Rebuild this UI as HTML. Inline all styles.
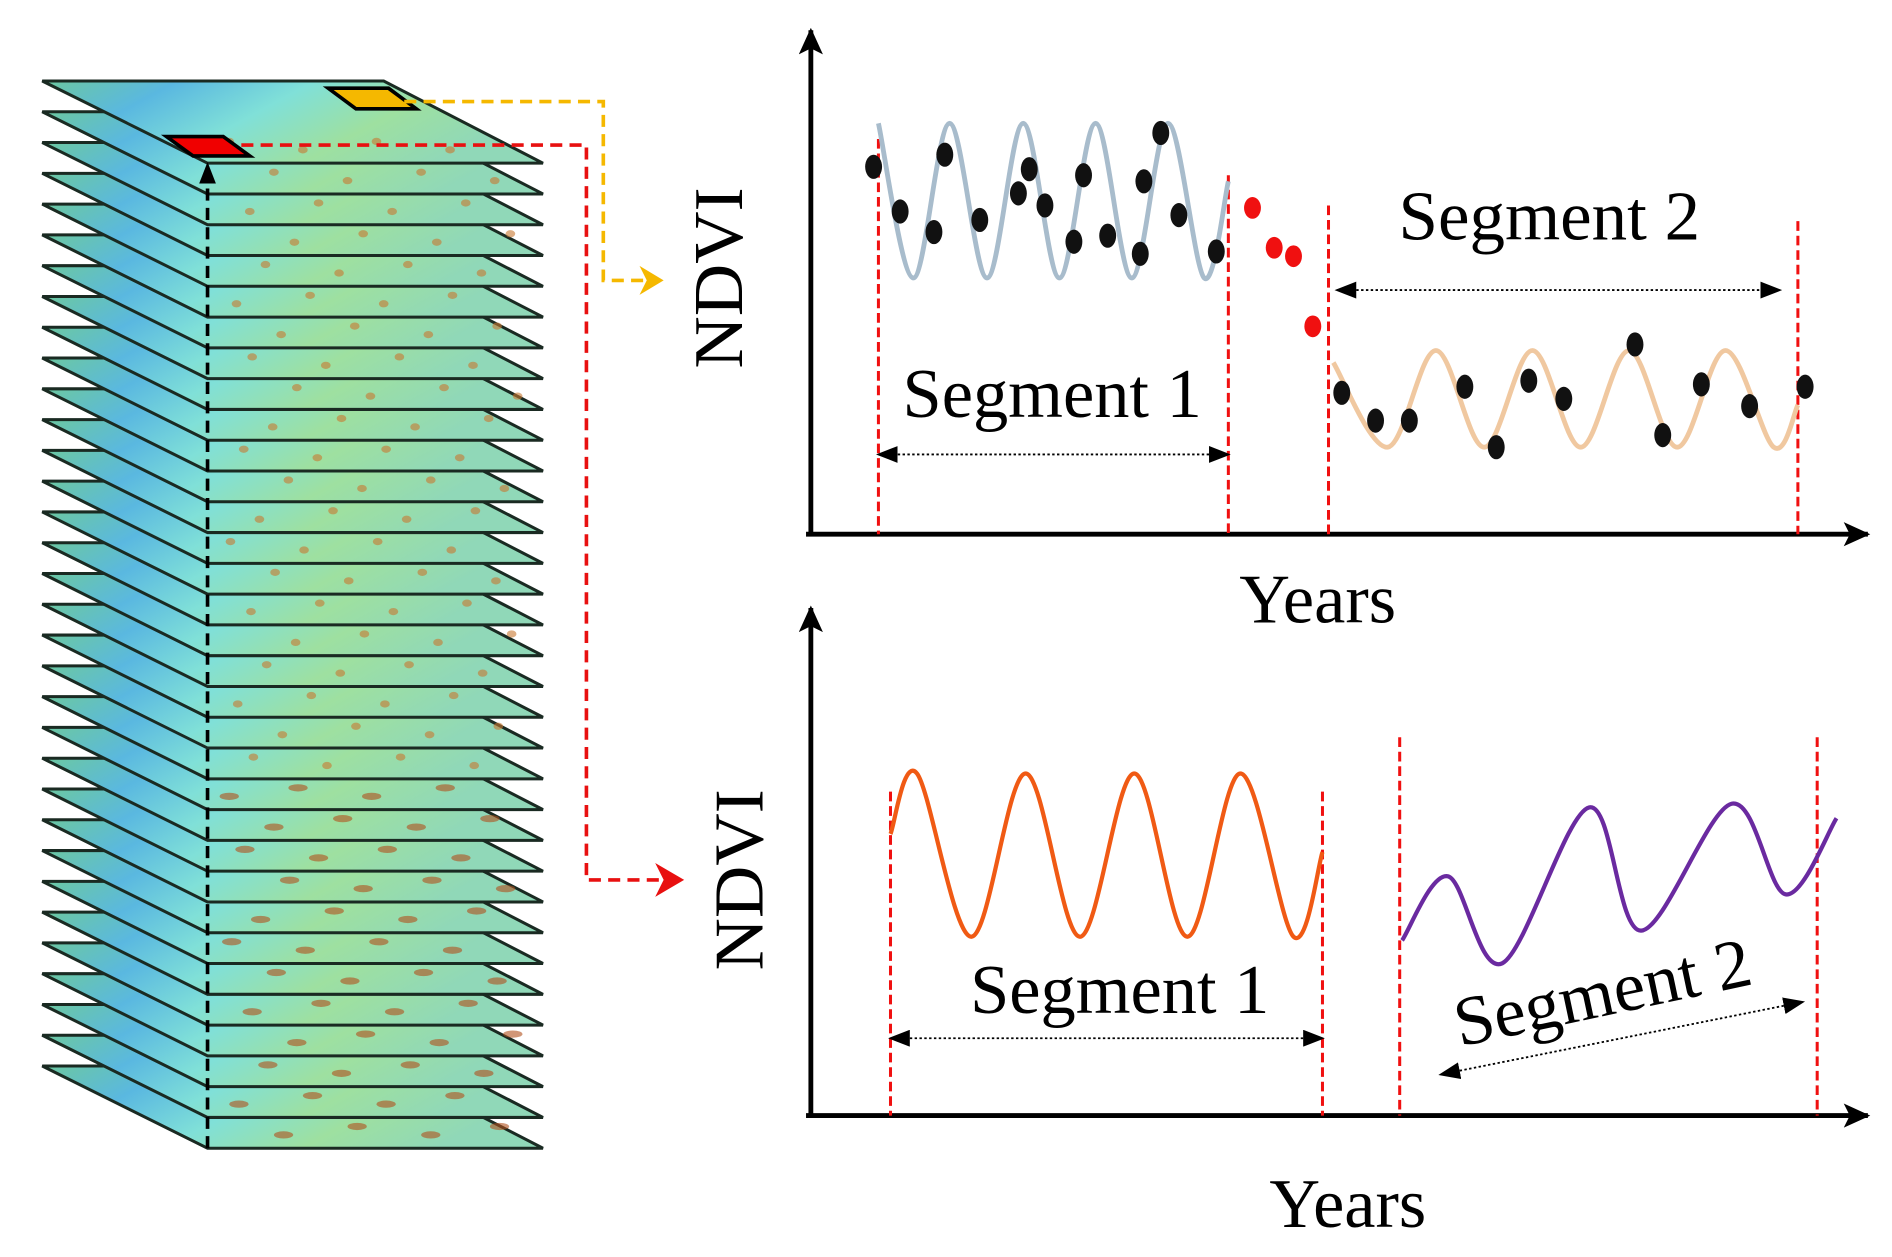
<!DOCTYPE html>
<html><head><meta charset="utf-8"><style>
html,body{margin:0;padding:0;background:#fff;width:1892px;height:1257px;overflow:hidden}
svg{display:block}
text{font-family:"Liberation Serif",serif;fill:#000}
</style></head><body>
<svg id="fig" width="1892" height="1257" viewBox="0 0 1568 1040" preserveAspectRatio="none" xmlns="http://www.w3.org/2000/svg">
<defs>
<linearGradient id="slab" x1="0" y1="0" x2="1" y2="0.3">
<stop offset="0" stop-color="#6cc8a0"/><stop offset="0.25" stop-color="#5ab8e0"/><stop offset="0.5" stop-color="#80e0d8"/><stop offset="0.75" stop-color="#9ee0a0"/><stop offset="1" stop-color="#90d8b8"/></linearGradient>
<marker id="ahs" markerWidth="22" markerHeight="20" refX="20" refY="10" orient="auto-start-reverse" markerUnits="userSpaceOnUse"><path d="M0,0 L22,10 L0,20 L5,10 Z" fill="#000"/></marker>
<marker id="ahm" markerWidth="18" markerHeight="14" refX="16" refY="7" orient="auto-start-reverse" markerUnits="userSpaceOnUse"><path d="M0,0 L18,7 L0,14 Z" fill="#000"/></marker>
</defs>
<g id="stack"></g>
<g id="g"></g>
</svg>
<script>
// ---- data ----
const layerCount = 33;
const seg1Curve = [[728,102],[757,230],[787,102],[818,230],[848,102],[878,230],[908,102],[938,230],[968,102],[998,230],[1018,150]];
const seg1Dots = [[724,138],[746,175],[774,192],[783,128],[812,182],[844,160],[853,140],[866,170],[890,200],[898,145],[918,195],[945,210],[948,150],[962,110],[977,178],[1008,208]];
const breakDots = [[1038,172],[1056,205],[1072,212],[1088,270]];
const seg2Curve = [[1105,300],[1150,370],[1190,290],[1230,370],[1270,290],[1310,370],[1350,290],[1390,370],[1430,290],[1470,370],[1490,335]];
const seg2Dots = [[1112,325],[1140,348],[1168,348],[1214,320],[1240,370],[1267,315],[1296,330],[1355,285],[1378,360],[1410,318],[1450,336],[1496,320]];
const fitSeg1 = [[738,690],[760,640],[805,775],[850,640],[895,775],[940,640],[984,775],[1028,640],[1072,775],[1096,705]];
const fitSeg2 = [[1162,778],[1200,725],[1245,797],[1317,668],[1360,770],[1435,665],[1480,740],[1522,677]];

const NS="http://www.w3.org/2000/svg";
function mk(tag,attrs,parent){const e=document.createElementNS(NS,tag);for(const k in attrs)e.setAttribute(k,attrs[k]);(parent||document.getElementById('g')).appendChild(e);return e;}
function smooth(p){let d=`M${p[0][0]},${p[0][1]}`;for(let i=0;i<p.length-1;i++){const p0=p[i-1]||p[i],p1=p[i],p2=p[i+1],p3=p[i+2]||p2;const c1x=p1[0]+(p2[0]-p0[0])/6,c1y=p1[1]+(p2[1]-p0[1])/6,c2x=p2[0]-(p3[0]-p1[0])/6,c2y=p2[1]-(p3[1]-p1[1])/6;d+=` C${c1x},${c1y} ${c2x},${c2y} ${p2[0]},${p2[1]}`;}return d;}

// stack
const st=document.getElementById('stack');
const sp=(882-67)/(layerCount-1);
for(let i=layerCount-1;i>=0;i--){const y=67+i*sp;
 const l=mk('polygon',{points:`35,${y} 318,${y} 450,${y+68} 172,${y+68}`,fill:'url(#slab)',stroke:'#1a2a22','stroke-width':2.5},st);
 
 
 for(let k=0;k<4;k++){const bx=190+((i*37+k*61)%240),by=y+50+((k*7)%14);
  const b=mk('ellipse',{cx:bx,cy:by,rx:i>20?8:4,ry:3,fill:i>20?'#b0501c':'#c87830',opacity:0.6},st);
  
  }
}
mk('polygon',{points:'272,73 322,73 345,90 295,90',fill:'#f5b800',stroke:'#000','stroke-width':3},st);
mk('polygon',{points:'138,113 185,113 207,129 160,129',fill:'#f00000',stroke:'#000','stroke-width':3},st);
mk('line',{x1:172,y1:950,x2:172,y2:136,stroke:'#000','stroke-width':3,'stroke-dasharray':'10,6','marker-end':'url(#ahm)'},st);

// connectors
mk('polyline',{points:'335,84 500,84 500,232 535,232',fill:'none',stroke:'#f5b800','stroke-width':3,'stroke-dasharray':'10,6'});
mk('path',{d:'M530,220 L550,232 L530,244 L536,232 Z',fill:'#f5b800'});
mk('polyline',{points:'200,120 486,120 486,728 552,728',fill:'none',stroke:'#e81010','stroke-width':3,'stroke-dasharray':'10,6'});
mk('path',{d:'M543,714 L567,728 L543,742 L550,728 Z',fill:'#e81010'});

// axes
function axes(y0,yTop,name){
 mk('line',{x1:672,y1:y0,x2:672,y2:yTop,stroke:'#000','stroke-width':4,'marker-end':'url(#ahs)'});
 mk('line',{x1:668,y1:y0,x2:1548,y2:y0,stroke:'#000','stroke-width':4,'marker-end':'url(#ahs)'});
}
axes(442,25,'top');axes(923,503,'bottom');
function vdash(x,y1,y2){const l=mk('line',{x1:x,y1:y1,x2:x,y2:y2,stroke:'#f01010','stroke-width':2.5,'stroke-dasharray':'8,4'});}
vdash(728,115,442);vdash(1018,145,442);vdash(1101,170,442);vdash(1490,183,442);
vdash(738,655,923);vdash(1096,655,923);vdash(1160,610,923);vdash(1506,610,923);

mk('path',{d:smooth(seg1Curve),fill:'none',stroke:'#a8bccc','stroke-width':4});
mk('path',{d:smooth(seg2Curve),fill:'none',stroke:'#f0c8a0','stroke-width':4});
seg1Dots.concat(seg2Dots).forEach(p=>{const c=mk('ellipse',{cx:p[0],cy:p[1],rx:7,ry:10,fill:'#111'});});
breakDots.forEach(p=>{const c=mk('ellipse',{cx:p[0],cy:p[1],rx:7,ry:9,fill:'#f01010'});});
mk('path',{d:smooth(fitSeg1),fill:'none',stroke:'#f05a14','stroke-width':3.5});
mk('path',{d:smooth(fitSeg2),fill:'none',stroke:'#6a2aa0','stroke-width':3.5});

function darrow(x1,y1,x2,y2,n){const l=mk('line',{x1,y1,x2,y2,stroke:'#000','stroke-width':1.5,'stroke-dasharray':'2,2','marker-start':'url(#ahm)','marker-end':'url(#ahm)'});}
darrow(728,376,1018,376,'segment1-span');darrow(1108,240,1475,240,'segment2-span');
darrow(738,859,1096,859,'fit-segment1-span');darrow(1194,889,1494,829,'fit-segment2-span');

function txt(s,x,y,size,name,rot,len){const t=mk('text',{x,y,'font-size':size,'text-anchor':'middle'});if(len){t.setAttribute('textLength',len);t.setAttribute('lengthAdjust','spacingAndGlyphs');}if(rot)t.setAttribute('transform',`rotate(${rot} ${x} ${y})`);t.textContent=s;}
txt('Segment 2',1284,198,58,'segment2-label',0,250);
txt('Segment 1',872,345,58,'segment1-label',0,248);
txt('Years',1092,515,58,'top-x-title',0,130);
txt('NDVI',615,230,58,'top-y-title',-90,150);
txt('Segment 1',928,838,58,'fit-segment1-label',0,248);
txt('Segment 2',1332,840,58,'fit-segment2-label',-12,250);
txt('Years',1117,1015,58,'bottom-x-title',0,130);
txt('NDVI',632,728,58,'bottom-y-title',-90,150);
</script>
</body></html>
